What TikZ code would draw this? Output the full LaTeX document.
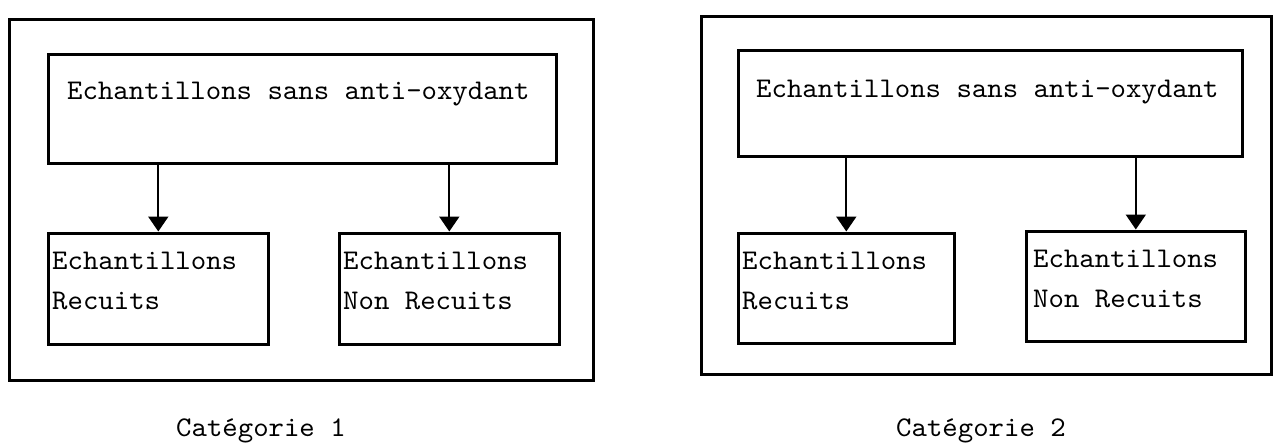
\documentclass[tikz,border=0pt]{standalone}
\usepackage{fontspec}
\newfontfamily\twfont{lmmono10-regular}[Extension=.otf, FakeStretch=1.03]
\usetikzlibrary{arrows.meta}
\tikzset{
  outerbox/.style={draw, line width=2.8pt, inner sep=0pt, anchor=north west},
  stepbox/.style={draw, line width=2.6pt, inner sep=0pt, anchor=north west},
  lbl/.style={font=\twfont\fontsize{28.5}{34}\selectfont, inner sep=0pt, anchor=base west},
  arr/.style={line width=2pt, -{Triangle[width=20pt,length=15pt]}, shorten >=0.5pt},
}
\begin{document}
\begin{tikzpicture}[x=1pt,y=-1pt]
\useasboundingbox (0,0) rectangle (1273,442);
% panel 1
\node[outerbox, minimum width=584pt, minimum height=361pt] (o1) at (8,18) {};
\node[stepbox, minimum width=508pt, minimum height=109pt] (t1) at (47,53) {};
\node[stepbox, minimum width=220pt, minimum height=111pt] (a1) at (47,232) {};
\node[stepbox, minimum width=220pt, minimum height=111pt] (b1) at (338,232) {};
\node[lbl] (tt1) at (67,99) {Echantillons sans anti-oxydant};
\node[lbl] (a1l1) at (52,269) {Echantillons};
\node[lbl] (a1l2) at (52,309) {Recuits};
\node[lbl] (b1l1) at (343,269) {Echantillons};
\node[lbl] (b1l2) at (343,309) {Non Recuits};
\draw[arr] (a1.north |- t1.south) -- (a1.north);
\draw[arr] (b1.north |- t1.south) -- (b1.north);
\node[lbl] (c1) at (176,436) {Catégorie 1};
% panel 2
\node[outerbox, minimum width=570pt, minimum height=358pt] (o2) at (700,15) {};
\node[stepbox, minimum width=504pt, minimum height=106pt] (t2) at (737,49) {};
\node[stepbox, minimum width=216pt, minimum height=110pt] (a2) at (737,232) {};
\node[stepbox, minimum width=219pt, minimum height=110pt] (b2) at (1025,230) {};
\node[lbl] (tt2) at (756,97) {Echantillons sans anti-oxydant};
\node[lbl] (a2l1) at (742,269) {Echantillons};
\node[lbl] (a2l2) at (742,309) {Recuits};
\node[lbl] (b2l1) at (1033,267) {Echantillons};
\node[lbl] (b2l2) at (1033,307) {Non Recuits};
\draw[arr] (a2.north |- t2.south) -- (a2.north);
\draw[arr] (b2.north |- t2.south) -- (b2.north);
\node[lbl] (c2) at (896,436) {Catégorie 2};
\end{tikzpicture}
\end{document}
